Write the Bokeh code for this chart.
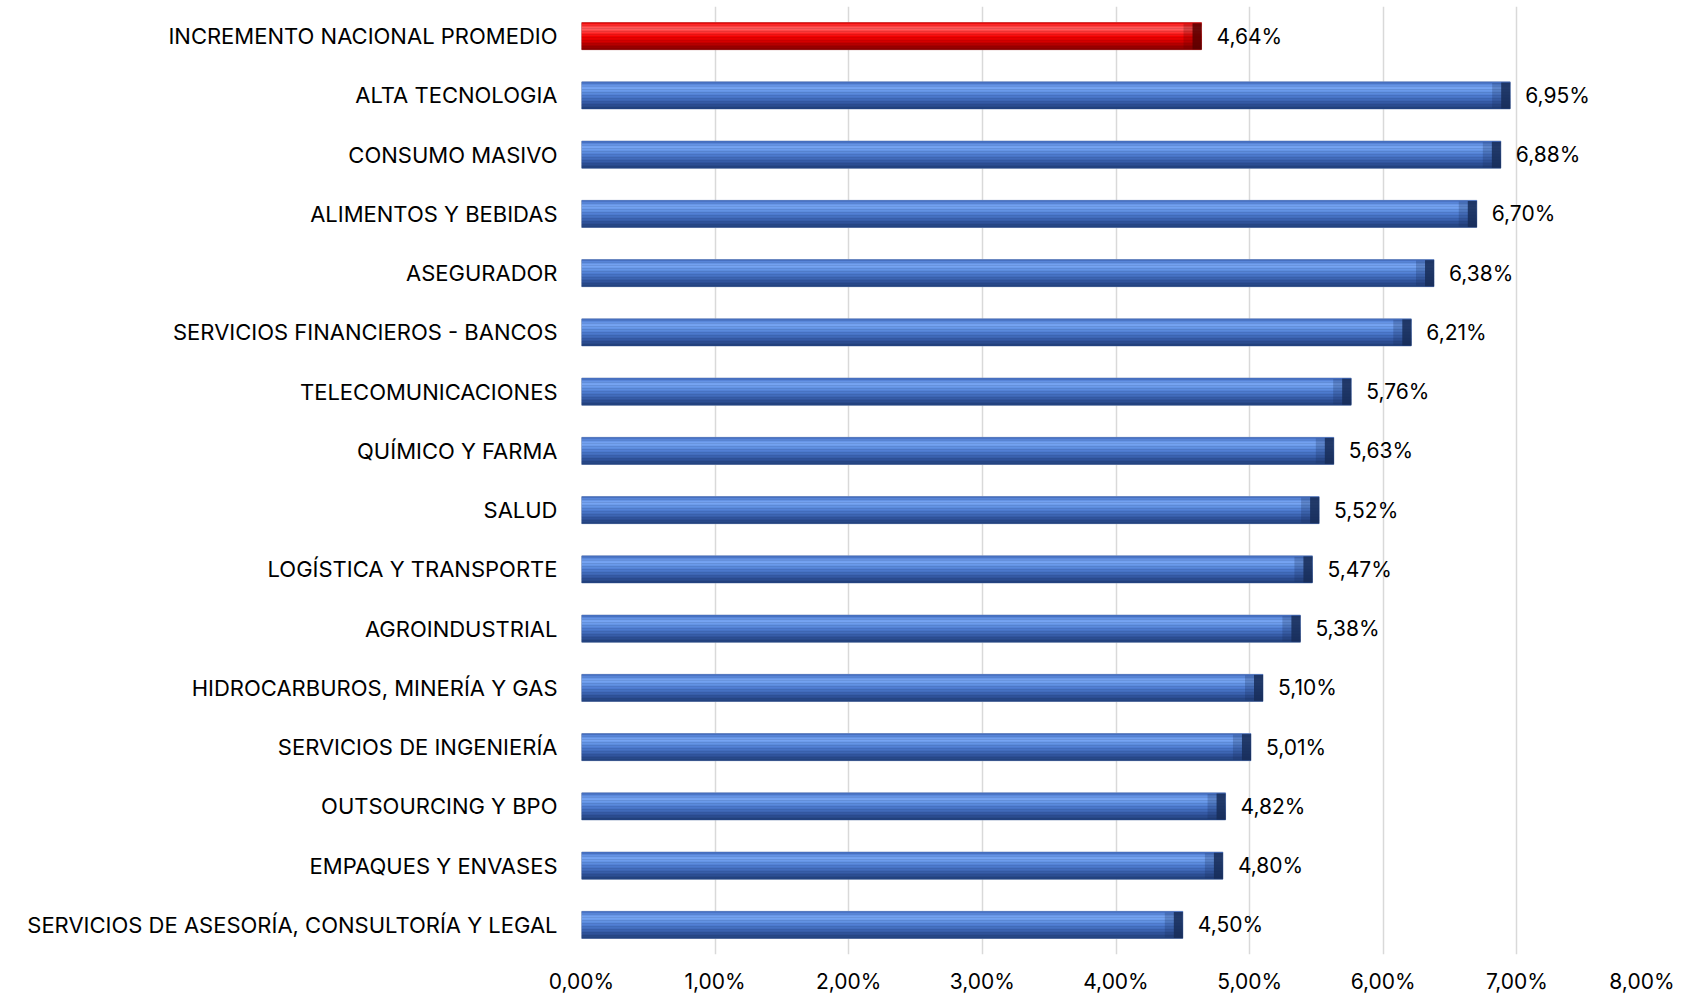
from bokeh.plotting import figure
from bokeh.models import FactorRange, Range1d, ColumnDataSource, CustomJSTickFormatter, FixedTicker
from bokeh.transform import dodge
from bokeh.core.properties import value
from bokeh.embed import file_html
from bokeh.resources import INLINE

categories = [
    "INCREMENTO NACIONAL PROMEDIO",
    "ALTA TECNOLOGIA",
    "CONSUMO MASIVO",
    "ALIMENTOS Y BEBIDAS",
    "ASEGURADOR",
    "SERVICIOS FINANCIEROS - BANCOS",
    "TELECOMUNICACIONES",
    "QUÍMICO Y FARMA",
    "SALUD",
    "LOGÍSTICA Y TRANSPORTE",
    "AGROINDUSTRIAL",
    "HIDROCARBUROS, MINERÍA Y GAS",
    "SERVICIOS DE INGENIERÍA",
    "OUTSOURCING Y BPO",
    "EMPAQUES Y ENVASES",
    "SERVICIOS DE ASESORÍA, CONSULTORÍA Y LEGAL",
]
values = [4.64, 6.95, 6.88, 6.70, 6.38, 6.21, 5.76, 5.63, 5.52, 5.47, 5.38, 5.10, 5.01, 4.82, 4.80, 4.50]
is_total = [True] + [False] * 15
x_ticks = [0, 1, 2, 3, 4, 5, 6, 7, 8]

FONT = "Inter"
W, H = 1674, 996
LEFT, RIGHT, TOP, BOTTOM = 581, 24, 6, 42
X_MAX = 8
unit_px = (H - TOP - BOTTOM) / len(categories)
xpx = (W - LEFT - RIGHT) / X_MAX

def u(px):
    return px / unit_px

def ux(px):
    return px / xpx

# gradient stops (px from top of bar, colour)
blue_stops = [(0, "#3d64b2"), (2, "#5582d6"), (6, "#7aa8f5"), (10, "#6393e4"),
              (14, "#4d7bcf"), (18, "#4069b8"), (22, "#30539b"), (27, "#21407b")]
red_stops = [(0, "#d80000"), (2, "#ff2222"), (6, "#ff6464"), (10, "#ff3030"),
             (14, "#f20000"), (18, "#dc0000"), (22, "#b20000"), (27, "#840000")]

def hx(c):
    return [int(c[i:i + 2], 16) for i in (1, 3, 5)]

def interp(stops, t):
    for (a, ca), (b, cb) in zip(stops, stops[1:]):
        if a <= t <= b:
            f = (t - a) / (b - a)
            A, B = hx(ca), hx(cb)
            return "#%02x%02x%02x" % tuple(round(A[i] + (B[i] - A[i]) * f) for i in range(3))
    return stops[-1][1]

bar_px = 27.0
n_slices = 18
slice_px = bar_px / n_slices

src = ColumnDataSource(dict(
    cat=categories, val=values,
    cap_left=[v - ux(9) for v in values],
    cap2_left=[v - ux(18) for v in values],
    lbl=[f"{v:.2f}".replace(".", ",") + "%" for v in values],
    cap=["#5a0000" if t else "#182d58" for t in is_total],
    edge=["#b06060" if t else "#8a9cc0" for t in is_total],
))

p = figure(width=W, height=H, output_backend="svg", toolbar_location=None,
           y_range=FactorRange(factors=list(reversed(categories)), range_padding=0),
           x_range=Range1d(0, X_MAX),
           min_border_left=LEFT, min_border_right=RIGHT, min_border_top=TOP, min_border_bottom=BOTTOM)
p.outline_line_color = None
p.background_fill_color = "white"

# base bar with thin light outline
p.hbar(y="cat", left=0, right="val", height=u(bar_px), fill_color="cap", line_color="edge",
       line_width=1, source=src)
# gradient slices
for k in range(n_slices):
    t = (k + 0.5) * slice_px
    off = bar_px / 2 - t
    colors = [interp(red_stops if tt else blue_stops, t) for tt in is_total]
    src.data[f"g{k}"] = colors
    p.hbar(y=dodge("cat", u(off), range=p.y_range), left=0, right="val", height=u(slice_px + 0.4),
           fill_color=f"g{k}", line_color=None, source=src)
# bevelled right end
p.hbar(y="cat", left="cap2_left", right="val", height=u(bar_px - 2), fill_color="cap", fill_alpha=0.25,
       line_color=None, source=src)
p.hbar(y="cat", left="cap_left", right="val", height=u(bar_px - 1), fill_color="cap", fill_alpha=0.85,
       line_color=None, source=src)

p.text(x="val", y="cat", text="lbl", source=src, x_offset=15, text_align="left", text_baseline="middle",
       text_font=value(FONT), text_font_size="21px", text_color="#000000")

p.xaxis.ticker = FixedTicker(ticks=x_ticks)
p.xaxis.formatter = CustomJSTickFormatter(code="return tick.toFixed(2).replace('.', ',') + '%';")
for ax in (p.xaxis, p.yaxis):
    ax.axis_line_color = None
    ax.major_tick_line_color = None
    ax.minor_tick_line_color = None
    ax.major_label_text_font = FONT
    ax.major_label_text_color = "#000000"
p.xaxis.major_label_text_font_size = "21px"
p.yaxis.major_label_text_font_size = "22px"
p.xaxis.major_label_standoff = 8
p.yaxis.major_label_standoff = 18

p.xgrid.grid_line_color = "#d9d9d9"
p.xgrid.grid_line_width = 1.5
p.ygrid.grid_line_color = None

open("out.html", "w").write(file_html(p, INLINE))
